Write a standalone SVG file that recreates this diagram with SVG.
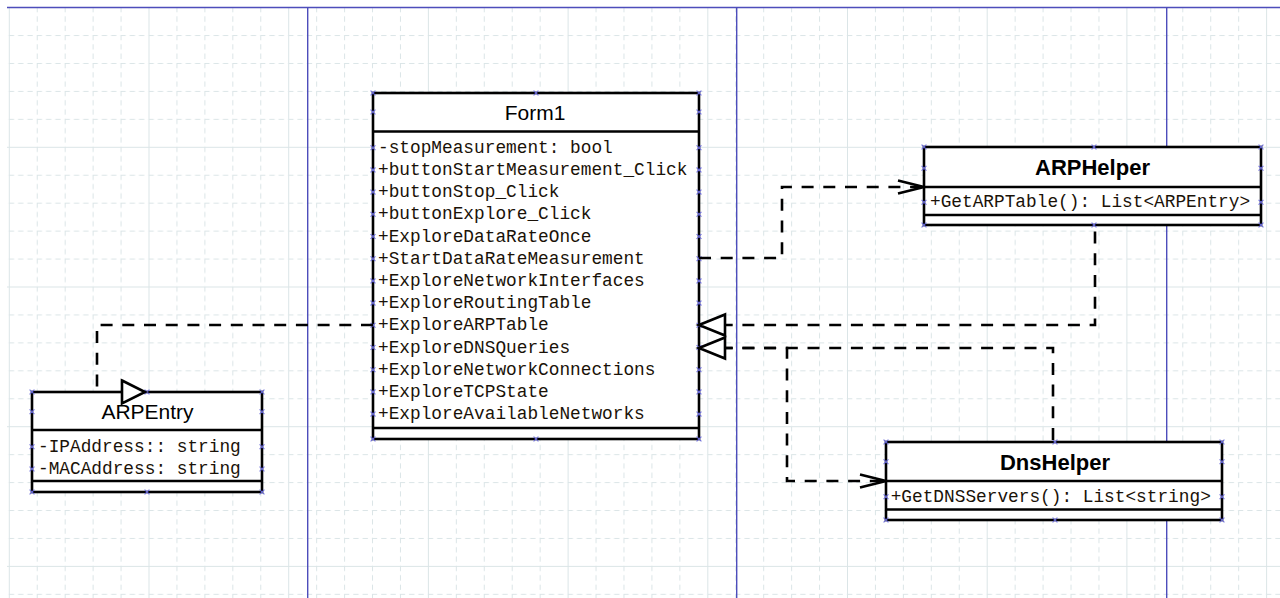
<svg xmlns="http://www.w3.org/2000/svg" xmlns:xlink="http://www.w3.org/1999/xlink" width="1280" height="598" viewBox="0 0 1280 598">
  <style>
    .box { fill: #ffffff; stroke: #000000; stroke-width: 2.6; }
    .sep { stroke: #000000; stroke-width: 2.6; fill: none; }
    .title { font-family: "Liberation Sans", Arial, sans-serif; font-size: 21px; fill: #000000; text-anchor: middle; }
    .title-b { font-family: "Liberation Sans", Arial, sans-serif; font-size: 22px; font-weight: bold; fill: #000000; text-anchor: middle; }
    .mem { font-family: "Liberation Mono", "Courier New", monospace; font-size: 17.8px; fill: #1a1208; white-space: pre; }
    .dash { fill: none; stroke: #000000; stroke-width: 2.6; stroke-dasharray: 12 9.7; }
    .head { fill: none; stroke: #000000; stroke-width: 2.6; stroke-linejoin: miter; }
    .tri { fill: #ffffff; stroke: #000000; stroke-width: 2.6; stroke-linejoin: miter; }
    .page { stroke: #4d4dbb; stroke-width: 1.4; fill: none; }
    .gmin { stroke: #dbe5e7; stroke-width: 1; stroke-dasharray: 5.3 4; fill: none; }
    .gmaj { stroke: #dbe5e7; stroke-width: 1; fill: none; }
  </style>
  <defs>
    <!-- 5x5 cell grid tile: solid major line plus dashed minor lines -->
    <pattern id="grid" x="8.8" y="7.1" width="139.7" height="139.7" patternUnits="userSpaceOnUse">
      <line class="gmaj" x1="0.5" y1="0" x2="0.5" y2="139.7"/>
      <line class="gmaj" x1="0" y1="0.5" x2="139.7" y2="0.5"/>
      <line class="gmin" x1="28.44" y1="0" x2="28.44" y2="139.7"/>
      <line class="gmin" x1="56.38" y1="0" x2="56.38" y2="139.7"/>
      <line class="gmin" x1="84.32" y1="0" x2="84.32" y2="139.7"/>
      <line class="gmin" x1="112.26" y1="0" x2="112.26" y2="139.7"/>
      <line class="gmin" x1="0" y1="28.44" x2="139.7" y2="28.44"/>
      <line class="gmin" x1="0" y1="56.38" x2="139.7" y2="56.38"/>
      <line class="gmin" x1="0" y1="84.32" x2="139.7" y2="84.32"/>
      <line class="gmin" x1="0" y1="112.26" x2="139.7" y2="112.26"/>
    </pattern>
    <!-- connection point marker -->
    <path id="mk" d="M-2.4 -2.4 L2.4 2.4 M-2.4 2.4 L2.4 -2.4" stroke="#6a6ad8" stroke-width="1.1" fill="none"/>
  </defs>

  <!-- canvas -->
  <rect x="0" y="0" width="1280" height="598" fill="#ffffff"/>
  <rect x="7" y="7.5" width="1273" height="591" fill="url(#grid)"/>

  <!-- page boundaries -->
  <g id="pages">
    <line class="page" x1="7" y1="7.5" x2="1280" y2="7.5"/>
    <line class="page" x1="307.7" y1="7.5" x2="307.7" y2="598"/>
    <line class="page" x1="736.7" y1="7.5" x2="736.7" y2="598"/>
    <line class="page" x1="1166.7" y1="7.5" x2="1166.7" y2="598"/>
  </g>

  <!-- class Form1 -->
  <g id="form1">
    <rect class="box" x="373" y="93" width="326" height="346"/>
    <line class="sep" x1="373" y1="131.5" x2="699" y2="131.5"/>
    <line class="sep" x1="373" y1="428" x2="699" y2="428"/>
    <text class="title" x="535" y="120">Form1</text>
    <text class="mem" x="378" y="152.7">-stopMeasurement: bool</text>
    <text class="mem" x="378" y="174.9">+buttonStartMeasurement_Click</text>
    <text class="mem" x="378" y="197.1">+buttonStop_Click</text>
    <text class="mem" x="378" y="219.3">+buttonExplore_Click</text>
    <text class="mem" x="378" y="241.5">+ExploreDataRateOnce</text>
    <text class="mem" x="378" y="263.7">+StartDataRateMeasurement</text>
    <text class="mem" x="378" y="285.9">+ExploreNetworkInterfaces</text>
    <text class="mem" x="378" y="308.1">+ExploreRoutingTable</text>
    <text class="mem" x="378" y="330.3">+ExploreARPTable</text>
    <text class="mem" x="378" y="352.5">+ExploreDNSQueries</text>
    <text class="mem" x="378" y="374.7">+ExploreNetworkConnections</text>
    <text class="mem" x="378" y="396.9">+ExploreTCPState</text>
    <text class="mem" x="378" y="419.1">+ExploreAvailableNetworks</text>
    <g>
      <use xlink:href="#mk" x="373" y="93"/><use xlink:href="#mk" x="536" y="93"/><use xlink:href="#mk" x="699" y="93"/>
      <use xlink:href="#mk" x="373" y="439"/><use xlink:href="#mk" x="536" y="439"/><use xlink:href="#mk" x="699" y="439"/>
      <use xlink:href="#mk" x="373" y="112"/><use xlink:href="#mk" x="699" y="112"/>
      <use xlink:href="#mk" x="373" y="147.7"/><use xlink:href="#mk" x="699" y="147.7"/>
      <use xlink:href="#mk" x="373" y="169.9"/><use xlink:href="#mk" x="699" y="169.9"/>
      <use xlink:href="#mk" x="373" y="192.1"/><use xlink:href="#mk" x="699" y="192.1"/>
      <use xlink:href="#mk" x="373" y="214.3"/><use xlink:href="#mk" x="699" y="214.3"/>
      <use xlink:href="#mk" x="373" y="236.5"/><use xlink:href="#mk" x="699" y="236.5"/>
      <use xlink:href="#mk" x="373" y="258.7"/><use xlink:href="#mk" x="699" y="258.7"/>
      <use xlink:href="#mk" x="373" y="280.9"/><use xlink:href="#mk" x="699" y="280.9"/>
      <use xlink:href="#mk" x="373" y="303.1"/><use xlink:href="#mk" x="699" y="303.1"/>
      <use xlink:href="#mk" x="373" y="325.3"/><use xlink:href="#mk" x="699" y="325.3"/>
      <use xlink:href="#mk" x="373" y="347.5"/><use xlink:href="#mk" x="699" y="347.5"/>
      <use xlink:href="#mk" x="373" y="369.7"/><use xlink:href="#mk" x="699" y="369.7"/>
      <use xlink:href="#mk" x="373" y="391.9"/><use xlink:href="#mk" x="699" y="391.9"/>
      <use xlink:href="#mk" x="373" y="414.1"/><use xlink:href="#mk" x="699" y="414.1"/>
    </g>
  </g>

  <!-- class ARPHelper -->
  <g id="arphelper">
    <rect class="box" x="924" y="147" width="337" height="78"/>
    <line class="sep" x1="924" y1="187" x2="1261" y2="187"/>
    <line class="sep" x1="924" y1="215" x2="1261" y2="215"/>
    <text class="title-b" x="1092.5" y="175">ARPHelper</text>
    <text class="mem" x="930" y="207.3">+GetARPTable(): List&lt;ARPEntry&gt;</text>
    <g>
      <use xlink:href="#mk" x="924" y="147"/><use xlink:href="#mk" x="1094" y="147"/><use xlink:href="#mk" x="1261" y="147"/>
      <use xlink:href="#mk" x="924" y="225"/><use xlink:href="#mk" x="1094" y="225"/><use xlink:href="#mk" x="1261" y="225"/>
      <use xlink:href="#mk" x="924" y="168.3"/><use xlink:href="#mk" x="1261" y="168.3"/>
      <use xlink:href="#mk" x="924" y="202.3"/><use xlink:href="#mk" x="1261" y="202.3"/>
    </g>
  </g>

  <!-- class ARPEntry -->
  <g id="arpentry">
    <rect class="box" x="32" y="392" width="230" height="100"/>
    <line class="sep" x1="32" y1="430" x2="262" y2="430"/>
    <line class="sep" x1="32" y1="481" x2="262" y2="481"/>
    <text class="title" x="147.5" y="419.3">ARPEntry</text>
    <text class="mem" x="38" y="451.7">-IPAddress:: string</text>
    <text class="mem" x="38" y="474">-MACAddress: string</text>
    <g>
      <use xlink:href="#mk" x="32" y="392"/><use xlink:href="#mk" x="147" y="392"/><use xlink:href="#mk" x="262" y="392"/>
      <use xlink:href="#mk" x="32" y="492"/><use xlink:href="#mk" x="147" y="492"/><use xlink:href="#mk" x="262" y="492"/>
      <use xlink:href="#mk" x="32" y="411.7"/><use xlink:href="#mk" x="262" y="411.7"/>
      <use xlink:href="#mk" x="32" y="446.7"/><use xlink:href="#mk" x="262" y="446.7"/>
      <use xlink:href="#mk" x="32" y="469"/><use xlink:href="#mk" x="262" y="469"/>
    </g>
  </g>

  <!-- class DnsHelper -->
  <g id="dnshelper">
    <rect class="box" x="886" y="442" width="336" height="78"/>
    <line class="sep" x1="886" y1="481" x2="1222" y2="481"/>
    <line class="sep" x1="886" y1="509.5" x2="1222" y2="509.5"/>
    <text class="title-b" x="1055" y="470">DnsHelper</text>
    <text class="mem" x="890.7" y="501.7">+GetDNSServers(): List&lt;string&gt;</text>
    <g>
      <use xlink:href="#mk" x="886" y="442"/><use xlink:href="#mk" x="1055" y="442"/><use xlink:href="#mk" x="1222" y="442"/>
      <use xlink:href="#mk" x="886" y="520"/><use xlink:href="#mk" x="1055" y="520"/><use xlink:href="#mk" x="1222" y="520"/>
      <use xlink:href="#mk" x="886" y="461.7"/><use xlink:href="#mk" x="1222" y="461.7"/>
      <use xlink:href="#mk" x="886" y="496.7"/><use xlink:href="#mk" x="1222" y="496.7"/>
    </g>
  </g>

  <!-- relationships -->
  <g id="connectors">
    <!-- Form1 uses ARPHelper -->
    <path class="dash" d="M699 258 H782 V187 H924"/>
    <polyline class="head" points="898,180.5 924,187 898,193.5"/>
    <!-- ARPHelper realization to Form1 -->
    <path class="dash" d="M699 325 H1095 V225"/>
    <!-- DnsHelper realization to Form1 -->
    <path class="dash" d="M699 348 H1053 V442"/>
    <!-- Form1 uses DnsHelper -->
    <path class="dash" d="M699 348 H787 V481 H886"/>
    <polyline class="head" points="860,474.5 886,481 860,487.5"/>
    <!-- Form1 to ARPEntry -->
    <path class="dash" d="M373 325 H97 V392"/>
    <polygon class="tri" points="699,325 725,314.5 725,335.5"/>
    <polygon class="tri" points="699,348 725,337.5 725,358.5"/>
    <polygon class="tri" points="122,380.5 145,392 122,403.5"/>
  </g>
</svg>
